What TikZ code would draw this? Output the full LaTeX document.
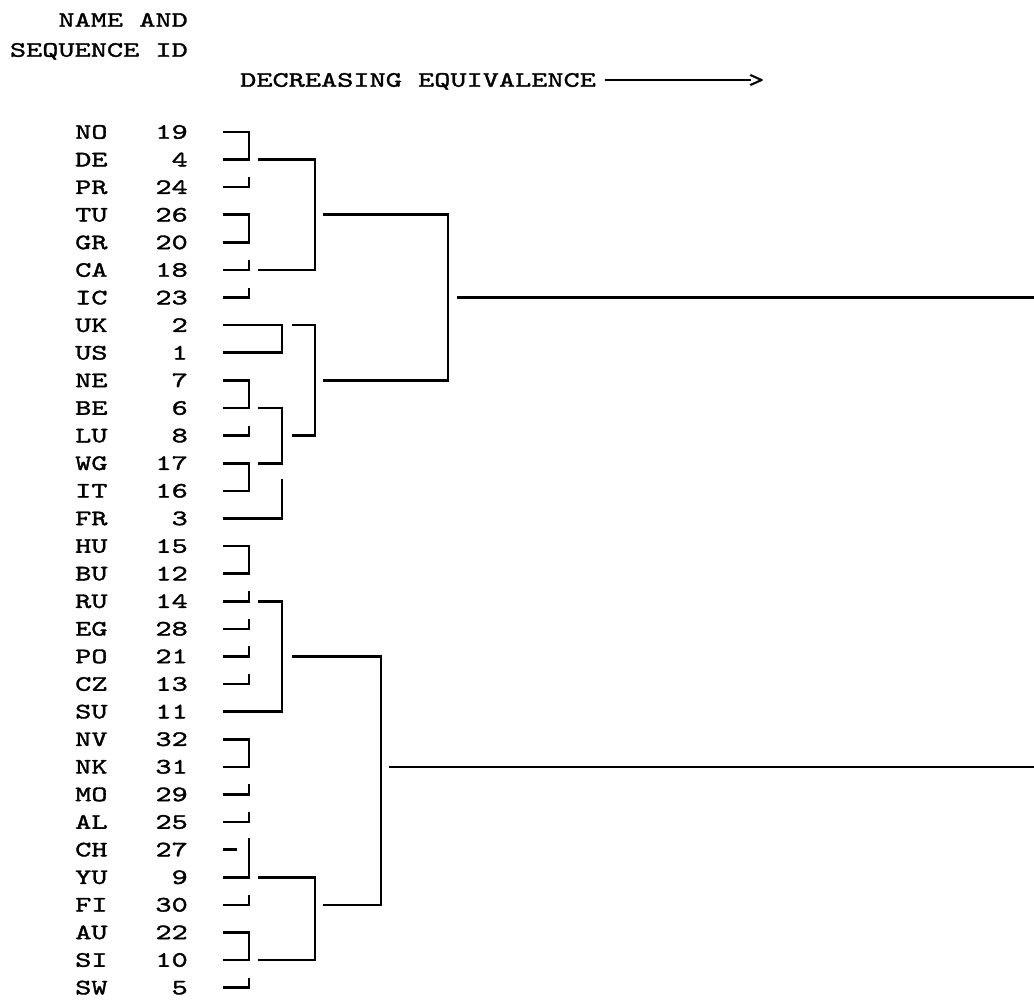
\documentclass[tikz,border=0pt]{standalone}
\usepackage{fontspec}
\newfontfamily\prtfont{lmmono10-regular.otf}[FakeStretch=1.4,FakeBold=1.5]
\usepackage{tikz}
\usetikzlibrary{calc}
\tikzset{
    prt/.style={font=\prtfont\fontsize{22}{22}\selectfont, inner sep=0pt, text height=13.5pt, text depth=0pt},
    branche/.style={line width=2.6pt},
  }
\begin{document}
\begin{tikzpicture}[x=1pt,y=-1pt]
				  \useasboundingbox (0,0) rectangle (1034,1000);
				  %TITRES
				  \node[prt,anchor=east] (titre1) at (188,20) {NAME AND};
				  \node[prt,anchor=east] (titre2) at (188,50) {SEQUENCE ID};
				  \node[prt,anchor=west] (decr) at (240,80) {DECREASING EQUIVALENCE};
				  \node[prt,anchor=west] (fleche) at (748,80) {>};
				  \draw[line width=1.6pt] ([xshift=9pt]decr.east) -- ([xshift=3pt]fleche.west);

				  %NOMS et NUMEROS
				  \foreach \nm/\id [count=\i from 0] in {NO/19,DE/4,PR/24,TU/26,GR/20,CA/18,IC/23,UK/2,US/1,NE/7,BE/6,LU/8,WG/17,IT/16,FR/3,HU/15,BU/12,RU/14,EG/28,PO/21,CZ/13,SU/11,NV/32,NK/31,MO/29,AL/25,CH/27,YU/9,FI/30,AU/22,SI/10,SW/5}{
				    \node[prt,anchor=west] (\nm) at (75,{132+27.6*\i}) {\nm};
				    \node[prt,anchor=east] (\nm-id) at (188,{132+27.6*\i}) {\id};
				  }

				  %COLONNES
				  \coordinate (cA) at (223,0);
				  \coordinate (cB) at (249,0);
				  \coordinate (cBs) at (258,0);
				  \coordinate (cC) at (282,0);
				  \coordinate (cCs) at (292,0);
				  \coordinate (cD) at (315,0);
				  \coordinate (cDs) at (323,0);
				  \coordinate (cEl) at (381,0);
				  \coordinate (cFl) at (389,0);
				  \coordinate (cEu) at (448,0);
				  \coordinate (cFu) at (457,0);
				  \coordinate (cR) at (1034,0);

				  %FEUILLES
				  \foreach \a/\b in {NO/DE,TU/GR,NE/BE,WG/IT,HU/BU,NV/NK,AU/SI}
				    \draw[branche] (cA |- \a) -- (cB |- \a) -- (cB |- \b) -- (cA |- \b);
				  \foreach \r in {PR,CA,IC,LU,RU,EG,PO,CZ,MO,AL,FI,SW}
				    \draw[branche] (cA |- \r) -- (cB |- \r) -- ++(0,-10);
				  \draw[branche] (cA |- UK) -- (cC |- UK) -- (cC |- US) -- (cA |- US);
				  \draw[branche] (cA |- FR) -- (cC |- FR) -- ++(0,-39);
				  \draw[branche] (cA |- CH) -- ++(14,0);
				  \draw[branche] (cA |- YU) -- (cB |- YU) -- ++(0,-39);

				  %GROUPES
				  \draw[branche] (cBs |- DE) -- (cD |- DE) -- (cD |- CA) -- (cBs |- CA);
				  \draw[branche] (cBs |- BE) -- (cC |- BE) -- (cC |- WG) -- (cBs |- WG);
				  \draw[branche] (cBs |- RU) -- (cC |- RU) -- (cC |- SU) -- (cA |- SU);
				  \draw[branche] (cBs |- YU) -- (cD |- YU) -- (cD |- SI) -- (cBs |- SI);
				  \draw[branche] (cCs |- UK) -- (cD |- UK) -- (cD |- LU) -- (cCs |- LU);
				  \draw[branche] (cDs |- TU) -- (cEu |- TU) -- (cEu |- NE) -- (cDs |- NE);
				  \draw[branche] (cCs |- PO) -- (cEl |- PO) -- (cEl |- FI) -- (cDs |- FI);

				  %SORTIES
				  \draw[branche] (cFu |- IC) -- (cR |- IC);
				  \draw[branche] (cFl |- NK) -- (cR |- NK);
				  \end{tikzpicture}
\end{document}
